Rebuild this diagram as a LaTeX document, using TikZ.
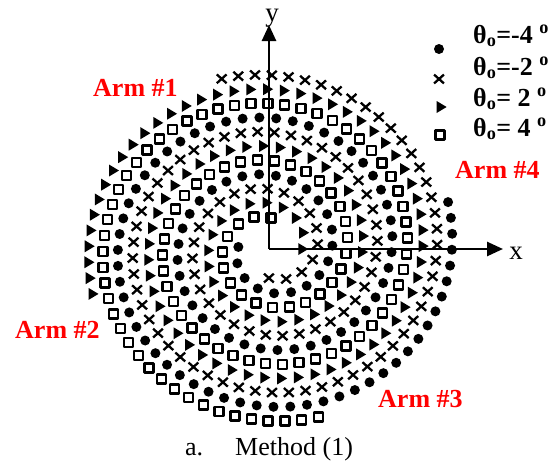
\documentclass[tikz,border=0pt]{standalone}
\usepackage{fontspec}
\setmainfont{Liberation Serif}
\usetikzlibrary{arrows.meta,shapes.geometric,shapes.misc}
\definecolor{ArmRed}{HTML}{FF0000}

\begin{document}
\begin{tikzpicture}[x=1pt,y=-1pt,line join=round,
  dotmark/.style={circle,fill,inner sep=0pt,minimum size=10pt},
  crossmark/.style={cross out,draw,line width=2.3pt,inner sep=0pt,minimum width=7.5pt,minimum height=6.5pt},
  trimark/.style={isosceles triangle,isosceles triangle stretches,fill,inner sep=0pt,minimum height=10pt,minimum width=12pt},
  sqmark/.style={rectangle,draw,line width=2.4pt,inner sep=0pt,minimum size=9pt},
  armlabel/.style={text=ArmRed,font=\fontsize{26}{30}\selectfont\bfseries,anchor=base west,inner sep=0pt},
  legtext/.style={font=\fontsize{26}{30}\selectfont\bfseries,anchor=base west,inner sep=0pt},
  axislabel/.style={font=\fontsize{27}{30}\selectfont,anchor=base,inner sep=0pt},
  axisline/.style={line width=2.6pt,-{Triangle[length=16pt,width=14pt]}}]
  \useasboundingbox (0,0) rectangle (556,466);
  \coordinate (O) at (269,249);
  \coordinate (Xtip) at (503,249);
  \coordinate (Ytip) at (269,25);

  \draw[axisline] (O) -- (Ytip);
  \draw[axisline] (O) -- (Xtip);
  \node[axislabel] (ylab) at (272,21) {y};
  \node[axislabel] (xlab) at (516,259) {x};

  \foreach \arm/\mk [count=\m from 0] in {sq/sqmark,tri/trimark,crs/crossmark,dot/dotmark}{
    \foreach \k in {0,...,103}{
      \pgfmathsetmacro\tpar{100*sqrt(3.61+1.1551*\k)}
      \pgfmathsetmacro\ang{\tpar-102-90*\m}
      \node[\mk] (\arm-\k) at ({270+\tpar/6*cos(\ang)},{248-0.95*\tpar/6*sin(\ang)}) {};
    }
  }

  \node[dotmark] (legdot) at (439,49) {};
  \node[crossmark] (legcrs) at (439,79) {};
  \node[trimark] (legtri) at (440,107) {};
  \node[sqmark] (legsq) at (440,135) {};
  \node[legtext] (legdottext) at (473,43) {θ\textsubscript{o}=-4 \textsuperscript{o}};
  \node[legtext] (legcrstext) at (473,75) {θ\textsubscript{o}=-2 \textsuperscript{o}};
  \node[legtext] (legtritext) at (473,106) {θ\textsubscript{o}= 2 \textsuperscript{o}};
  \node[legtext] (legsqtext) at (473,136) {θ\textsubscript{o}= 4 \textsuperscript{o}};

  \node[armlabel] (arm1) at (93,96) {Arm \#1};
  \node[armlabel] (arm2) at (15,338) {Arm \#2};
  \node[armlabel] (arm3) at (378,407) {Arm \#3};
  \node[armlabel] (arm4) at (455,178) {Arm \#4};

  \node[font=\fontsize{26}{30}\selectfont,anchor=base west,inner sep=0pt] (caption) at (185,455) {a.\hspace{32pt}Method (1)};
\end{tikzpicture}
\end{document}
